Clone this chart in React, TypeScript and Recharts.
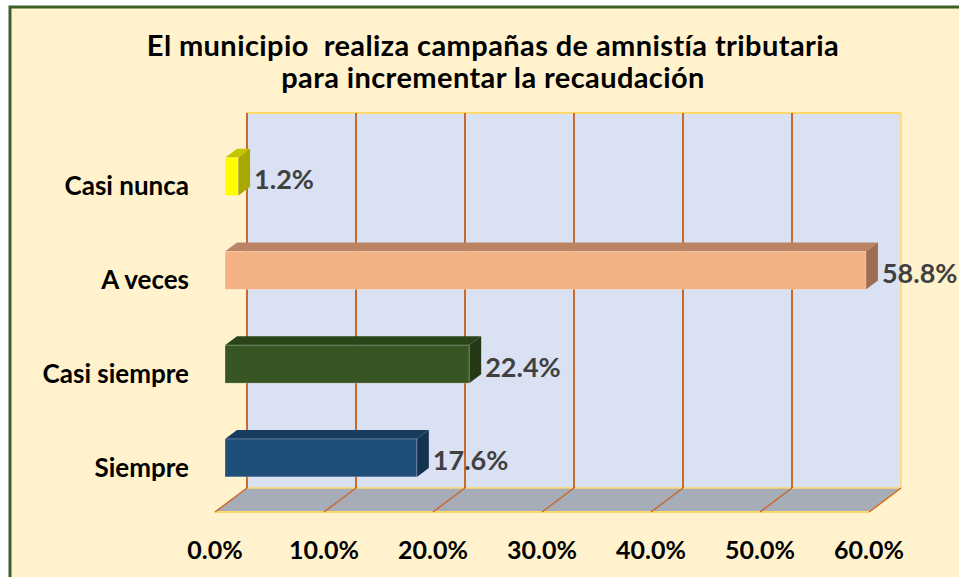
import { BarChart, Bar, XAxis, YAxis, CartesianGrid, LabelList, usePlotArea } from 'recharts';

// ─── Data ─────────────────────────────────────────────────────────────────────
const categories = ['Casi nunca', 'A veces', 'Casi siempre', 'Siempre'];
const values = [0.012, 0.588, 0.224, 0.176];
const xTicks = [0, 0.1, 0.2, 0.3, 0.4, 0.5, 0.6];
const titleLines = ['El municipio  realiza campañas de amnistía tributaria', 'para incrementar la recaudación'];

const data = categories.map((name, i) => ({ name, value: values[i] }));

// front / top / side shades per category
const BAR_COLORS = [
  { front: '#FFFF00', top: '#C4C400', side: '#A8A800' },
  { front: '#F4B183', top: '#BC8464', side: '#9E6E50' },
  { front: '#375623', top: '#2A441A', side: '#233916' },
  { front: '#1F4E79', top: '#183C5E', side: '#15334F' },
];

const FONT = 'Lato, "Open Sans", sans-serif';
const BG = '#FFF2CC';
const WALL = '#DAE1F2';
const FLOOR = '#A6ADB9';
const GRID = '#C96A2A';
const EDGE = '#FFD966';

// 3D offsets relative to the bar plane
const BACK_DX = 22;
const BACK_DY = -16.5;
const FRONT_DX = -10;
const FRONT_DY = 7.5;
const BAR_DX = 12;
const BAR_DY = -9;

const pct = (v: number) => `${(v * 100).toFixed(1)}%`;

// ─── Back wall + floor ────────────────────────────────────────────────────────
function Walls() {
  const area = usePlotArea();
  if (!area) return null;
  const L = area.x;
  const R = area.x + area.width;
  const T = area.y;
  const B = area.y + area.height;
  const bT = T + BACK_DY;
  const bB = B + BACK_DY;
  return (
    <g>
      <polygon
        points={`${L + BACK_DX},${bT} ${R + BACK_DX},${bT} ${R + BACK_DX},${bB} ${L + BACK_DX},${bB}`}
        fill={WALL}
      />
      <polygon
        points={`${L + BACK_DX},${bB} ${R + BACK_DX},${bB} ${R + FRONT_DX},${B + FRONT_DY} ${L + FRONT_DX},${B + FRONT_DY}`}
        fill={FLOOR}
      />
      <line x1={L + BACK_DX} y1={bT} x2={R + BACK_DX} y2={bT} stroke={EDGE} strokeWidth={2} />
      <line x1={R + BACK_DX} y1={bT} x2={R + BACK_DX} y2={bB} stroke={EDGE} strokeWidth={1.5} />
      <line x1={L + BACK_DX} y1={bB} x2={R + BACK_DX} y2={bB} stroke={EDGE} strokeWidth={1.5} />
      <line x1={L + FRONT_DX} y1={B + FRONT_DY} x2={R + FRONT_DX} y2={B + FRONT_DY} stroke={EDGE} strokeWidth={2} />
      <line x1={R + BACK_DX} y1={bB} x2={R + FRONT_DX} y2={B + FRONT_DY} stroke={EDGE} strokeWidth={1.5} />
    </g>
  );
}

// grid line on the back wall plus its diagonal across the floor (walls drawn under the first one)
function GridLine(props: any) {
  const { x1, y1, y2, index } = props;
  const last = index === xTicks.length - 1;
  return (
    <g key={`g-${index}`}>
      {index === 0 && <Walls />}
      {!last && (
        <line x1={x1 + BACK_DX} y1={y1 + BACK_DY} x2={x1 + BACK_DX} y2={y2 + BACK_DY} stroke={GRID} strokeWidth={2} />
      )}
      <line x1={x1 + BACK_DX} y1={y2 + BACK_DY} x2={x1 + FRONT_DX} y2={y2 + FRONT_DY} stroke={GRID} strokeWidth={1.5} />
    </g>
  );
}

// ─── 3D bar ───────────────────────────────────────────────────────────────────
function Bar3D(props: any) {
  const { x, y, width, height, payload } = props;
  const c = BAR_COLORS[categories.indexOf(payload.name)] ?? BAR_COLORS[0];
  return (
    <g>
      <polygon
        points={`${x},${y} ${x + BAR_DX},${y + BAR_DY} ${x + width + BAR_DX},${y + BAR_DY} ${x + width},${y}`}
        fill={c.top}
      />
      <polygon
        points={`${x + width},${y} ${x + width + BAR_DX},${y + BAR_DY} ${x + width + BAR_DX},${y + height + BAR_DY} ${x + width},${y + height}`}
        fill={c.side}
      />
      <rect x={x} y={y} width={width} height={height} fill={c.front} stroke="rgba(255,255,255,0.35)" strokeWidth={0.8} />
    </g>
  );
}

function ValueLabel(props: any) {
  const { x, y, width, height, value } = props;
  return (
    <text
      x={x + width + 16}
      y={y + height / 2 + 2}
      dominantBaseline="central"
      fontFamily={FONT}
      fontWeight={700}
      fontSize={27}
      fill="#404040"
    >
      {pct(Number(value))}
    </text>
  );
}

function CategoryTick(props: any) {
  const { x, y, payload } = props;
  return (
    <text x={x} y={y + 9} textAnchor="end" dominantBaseline="central" fontFamily={FONT} fontWeight={700} fontSize={26} fill="#000">
      {payload.value}
    </text>
  );
}

function PctTick(props: any) {
  const { x, y, payload } = props;
  return (
    <text x={x + FRONT_DX} y={y + 44.5} textAnchor="middle" dominantBaseline="central" fontFamily={FONT} fontWeight={700} fontSize={25} fill="#000">
      {pct(payload.value)}
    </text>
  );
}

export default function App() {
  return (
    <div style={{ position: 'absolute', left: 0, top: 0, width: 959, height: 577, background: '#fff' }}>
      <svg width={959} height={577} style={{ position: 'absolute', left: 0, top: 0 }}>
        <rect x={10} y={7} width={960} height={590} fill={BG} stroke="#3F5F27" strokeWidth={3} />
        {titleLines.map((t, i) => (
          <text
            key={i}
            x={493}
            y={44 + i * 32}
            textAnchor="middle"
            dominantBaseline="central"
            fontFamily={FONT}
            fontWeight={700}
            fontSize={29}
            letterSpacing={0.4}
            style={{ whiteSpace: 'pre' }}
            fill="#000"
          >
            {t}
          </text>
        ))}
      </svg>
      <div style={{ position: 'absolute', left: 0, top: 0 }}>
        <BarChart
          width={959}
          height={577}
          data={data}
          layout="vertical"
          barCategoryGap="30%"
          margin={{ top: 129.5, right: 80, bottom: 42.5, left: 185 }}
        >
          <CartesianGrid horizontal={false} vertical={GridLine} />
          <XAxis
            type="number"
            domain={[0, 0.6]}
            ticks={xTicks}
            height={30}
            tickSize={0}
            tickMargin={0}
            axisLine={false}
            tickLine={false}
            tick={PctTick}
            interval={0}
          />
          <YAxis
            type="category"
            dataKey="name"
            width={40}
            tickSize={0}
            tickMargin={36}
            axisLine={false}
            tickLine={false}
            tick={CategoryTick}
            interval={0}
          />
          <Bar dataKey="value" shape={Bar3D} isAnimationActive={false}>
            <LabelList dataKey="value" content={ValueLabel} />
          </Bar>
        </BarChart>
      </div>
    </div>
  );
}
